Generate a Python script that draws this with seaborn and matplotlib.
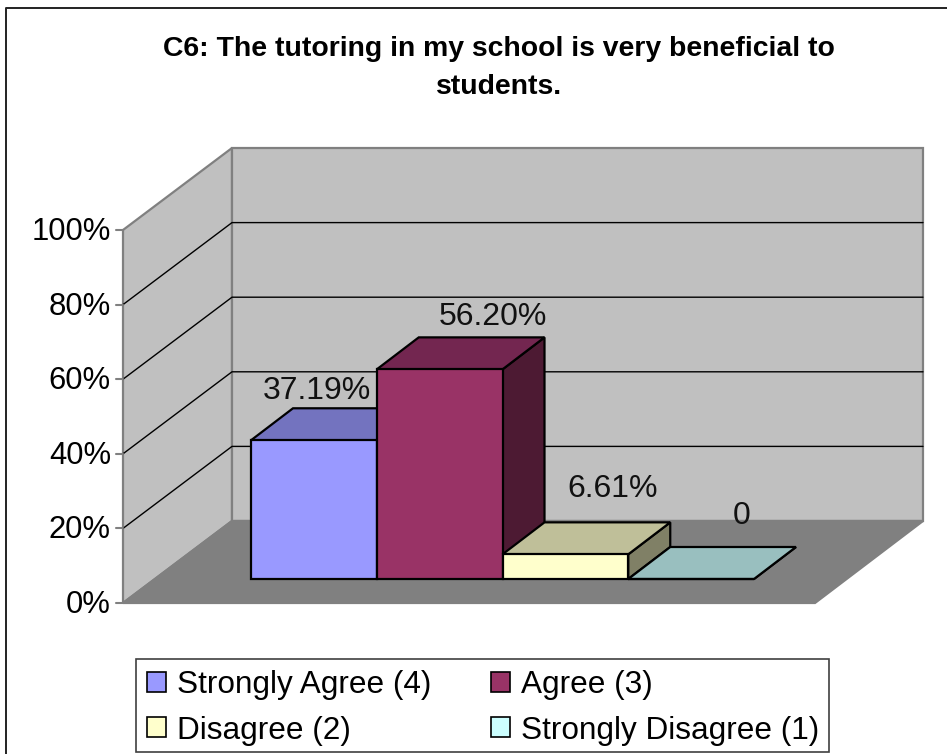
import matplotlib
matplotlib.use("Agg")
import matplotlib.pyplot as plt
import seaborn as sns
from matplotlib.lines import Line2D
from matplotlib.patches import Patch, Polygon, Rectangle

sns.set_theme(style="white")
plt.rcParams['font.family'] = ['Liberation Sans', 'DejaVu Sans']
plt.rcParams['text.color'] = 'black'

title = "C6: The tutoring in my school is very beneficial to\nstudents."
categories = ["Strongly Agree (4)", "Agree (3)", "Disagree (2)", "Strongly Disagree (1)"]
values = [37.19, 56.20, 6.61, 0]
value_labels = ["37.19%", "56.20%", "6.61%", "0"]
ticks = [0, 20, 40, 60, 80, 100]
tick_labels = ["0%", "20%", "40%", "60%", "80%", "100%"]
front_colors = ["#9999FF", "#993366", "#FFFFCC", "#CCFFFF"]
top_colors = ["#7373BF", "#732650", "#BFBF99", "#99BFBF"]
side_colors = ["#4D4D80", "#4D1A33", "#808066", "#668080"]

W, H = 947, 754
# bars' front plane in picture pixels
LEFT, RIGHT, BASE = 251, 754, 579
PX_PER_PCT = 3.73
PX_PER_CAT = (RIGHT - LEFT) / 4

fig = plt.figure(figsize=(W / 100, H / 100), dpi=100, facecolor="white")
ax = fig.add_axes([LEFT / W, (H - BASE) / H, (RIGHT - LEFT) / W, 100 * PX_PER_PCT / H])


def dx(px):
    return px / PX_PER_CAT


def dy(px):
    return px / PX_PER_PCT


def px_x(px):
    return -0.5 + dx(px - LEFT)


def px_y(px):
    return dy(BASE - px)


sns.barplot(x=categories, y=values, hue=categories, palette=front_colors, width=1,
            edgecolor="black", linewidth=1.6, legend=False, saturation=1, ax=ax, zorder=5)
ax.set_xlim(-0.5, 3.5)
ax.set_ylim(0, 100)
ax.set_axis_off()

# walls and floor
wall_front, wall_back, wall_right, floor_right = 123, 232, 923, 815
y_front, y_back = 603, 521
top = 100
side = [(px_x(wall_front), px_y(y_front)), (px_x(wall_back), px_y(y_back)),
        (px_x(wall_back), px_y(y_back) + top), (px_x(wall_front), px_y(y_front) + top)]
back = [(px_x(wall_back), px_y(y_back)), (px_x(wall_right), px_y(y_back)),
        (px_x(wall_right), px_y(y_back) + top), (px_x(wall_back), px_y(y_back) + top)]
floor = [(px_x(wall_front), px_y(y_front)), (px_x(floor_right), px_y(y_front)),
         (px_x(wall_right), px_y(y_back)), (px_x(wall_back), px_y(y_back))]
for pts, fc in [(side, "#C0C0C0"), (back, "#C0C0C0"), (floor, "#808080")]:
    ax.add_patch(Polygon(pts, closed=True, facecolor=fc, edgecolor="#808080", linewidth=1.6,
                         clip_on=False, zorder=1))

for t, lab in zip(ticks, tick_labels):
    yf = px_y(y_front) + t
    yb = px_y(y_back) + t
    if 0 < t < 100:
        ax.plot([px_x(wall_front), px_x(wall_back), px_x(wall_right)], [yf, yb, yb],
                color="black", linewidth=1, clip_on=False, zorder=2)
    ax.plot([px_x(wall_front - 7), px_x(wall_front)], [yf, yf], color="#808080",
            linewidth=1.5, clip_on=False, zorder=2)
    ax.annotate(lab, xy=(px_x(111), yf), xytext=(0, -1.5), textcoords="offset points",
                ha="right", va="center", fontsize=22.3, annotation_clip=False)

# depth faces of the bars
depth_x, depth_y = dx(42), dy(32)
for i, bar in enumerate(ax.patches[:4]):
    x0 = bar.get_x()
    x1 = x0 + bar.get_width()
    h = bar.get_height()
    z = 3 + i * 0.1
    ax.add_patch(Polygon([(x1, 0), (x1 + depth_x, depth_y), (x1 + depth_x, h + depth_y), (x1, h)],
                         closed=True, facecolor=side_colors[i], edgecolor="black",
                         linewidth=1.6, clip_on=False, zorder=z))
    ax.add_patch(Polygon([(x0, h), (x1, h), (x1 + depth_x, h + depth_y), (x0 + depth_x, h + depth_y)],
                         closed=True, facecolor=top_colors[i], edgecolor="black",
                         linewidth=1.6, clip_on=False, zorder=z))
    bar.set_zorder(z + 0.05)
    bar.set_clip_on(False)

# value labels, moved by hand in the original chart
label_dx = [3, 53, 47, 50]
label_dy = [49, 52, 65, 63]
for i, bar in enumerate(ax.patches[:4]):
    ax.annotate(value_labels[i], xy=(bar.get_x() + bar.get_width() / 2, bar.get_height()),
                xytext=(label_dx[i] * 0.72, label_dy[i] * 0.72), textcoords="offset points",
                ha="center", va="center", fontsize=23, color="#111111", zorder=10,
                annotation_clip=False)

fig.text(499 / W, 1 - 49 / H, title.split("\n")[0], ha="center", va="center",
         fontsize=20.4, fontweight="bold")
fig.text(499 / W, 1 - 87 / H, title.split("\n")[1], ha="center", va="center",
         fontsize=20.4, fontweight="bold")

# legend box drawn apart so the entries can sit where they do in the reference
fig.add_artist(Rectangle((136 / W, 1 - 752 / H), 693 / W, 93 / H, transform=fig.transFigure,
                         facecolor="white", edgecolor="#404040", linewidth=1.2))
handles = [Patch(facecolor=c, edgecolor="black", linewidth=1.2) for c in front_colors]
# column-wise ordering gives the reference's 2x2 layout
order = [0, 2, 1, 3]
fs = 22.7
font_px = fs / 0.72
leg = fig.legend([handles[i] for i in order], [categories[i] for i in order], ncol=2,
                 loc="lower left", bbox_to_anchor=(138 / W, 1 - 755 / H), borderaxespad=0,
                 fontsize=fs, frameon=False,
                 handlelength=19 / font_px, handleheight=19 / font_px,
                 handletextpad=11 / font_px, columnspacing=59 / font_px,
                 labelspacing=0.5, borderpad=0.3)
leg.set_zorder(5)

# chart area border, only top and left fall inside the picture
fig.add_artist(Line2D([6 / W, 6 / W, 1], [0, 1 - 8 / H, 1 - 8 / H], color="#222222", linewidth=1.4))

fig.savefig("out.png", dpi=100)
